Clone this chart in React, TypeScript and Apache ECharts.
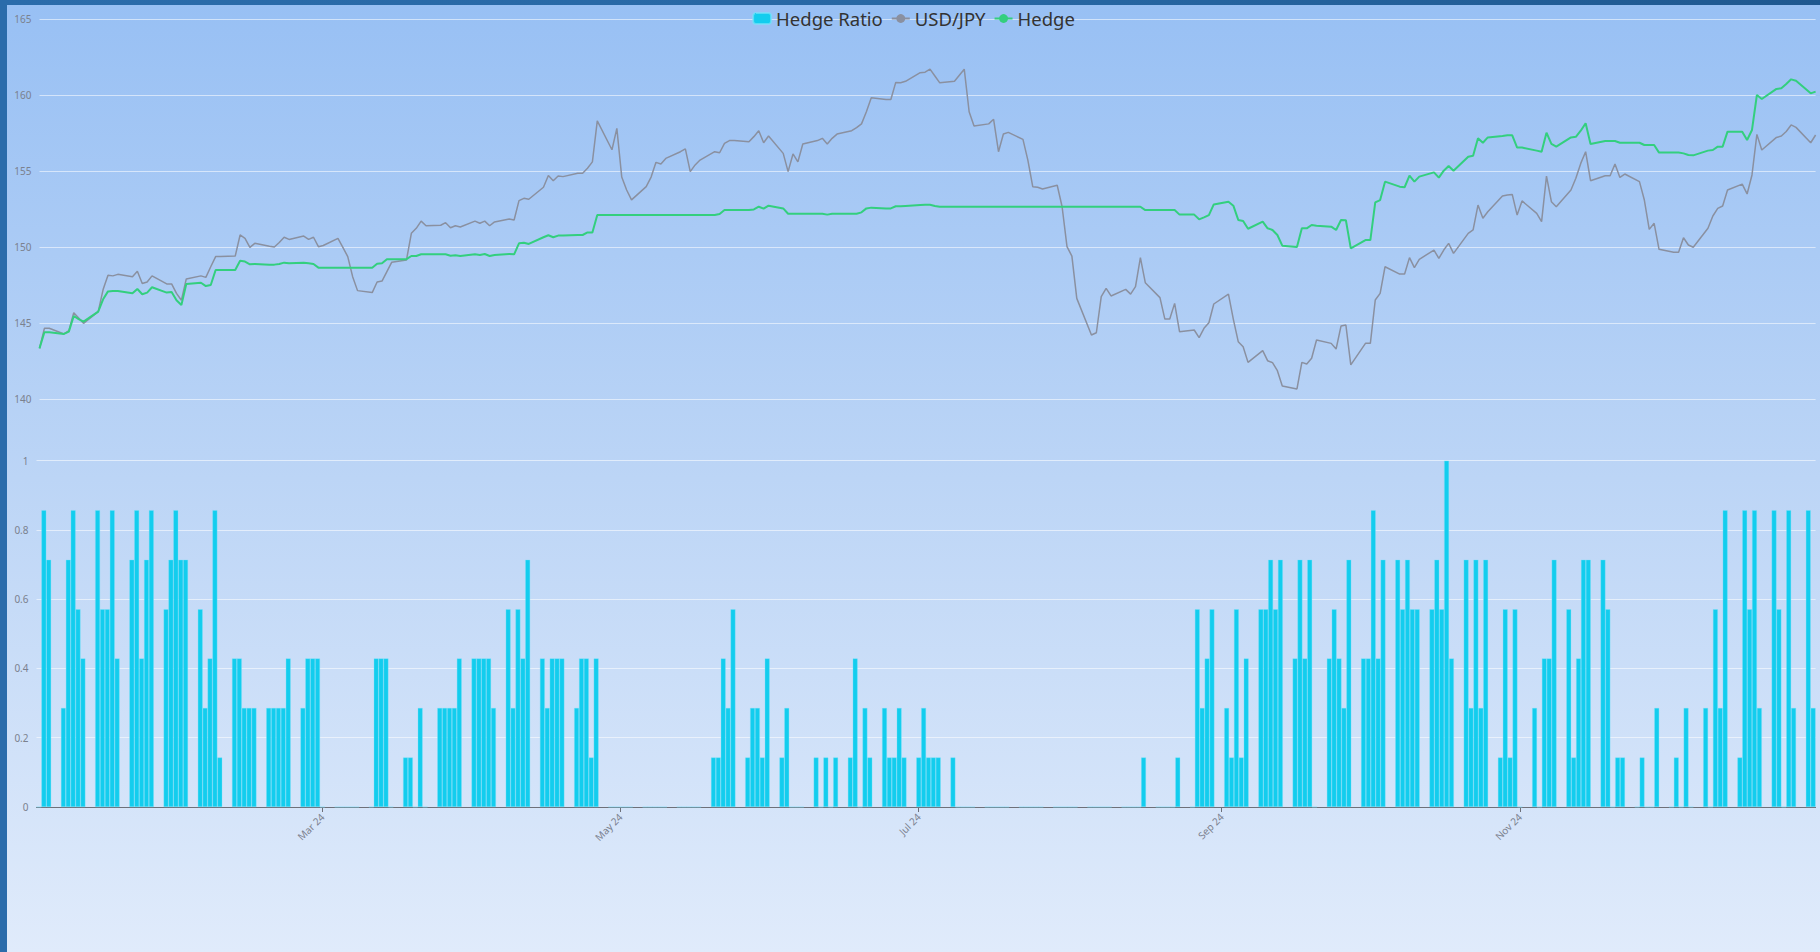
import React, { useEffect, useRef } from "react";
import * as echarts from "echarts";

// ---- categories: trading days of 2024 (day-of-month per month) ----
const YEAR = 2024;
const TRADING_DAYS_BY_MONTH: number[][] = [
  [3, 4, 5, 8, 9, 10, 11, 12, 15, 16, 17, 18, 19, 22, 23, 24, 25, 26, 29, 30, 31],
  [1, 2, 5, 6, 7, 8, 9, 12, 13, 14, 15, 16, 19, 20, 21, 22, 23, 26, 27, 28, 29],
  [1, 4, 5, 6, 7, 8, 11, 12, 13, 14, 15, 18, 19, 20, 21, 22, 25, 26, 27, 28, 29],
  [1, 2, 3, 4, 5, 8, 9, 10, 11, 12, 15, 16, 17, 18, 19, 22, 23, 24, 25, 26, 29, 30],
  [1, 2, 3, 6, 7, 8, 9, 10, 13, 14, 15, 16, 17, 20, 21, 22, 23, 24, 27, 28, 29, 30, 31],
  [3, 4, 5, 6, 7, 10, 11, 12, 13, 14, 17, 18, 19, 20, 21, 24, 25, 26, 27, 28],
  [1, 2, 3, 4, 5, 8, 9, 10, 11, 12, 15, 16, 17, 18, 19, 22, 23, 24, 25, 26, 29, 30, 31],
  [1, 2, 5, 6, 7, 8, 9, 12, 13, 14, 15, 16, 19, 20, 21, 22, 23, 26, 27, 28, 29, 30],
  [2, 3, 4, 5, 6, 9, 10, 11, 12, 13, 16, 17, 18, 19, 20, 23, 24, 25, 26, 27, 30],
  [1, 2, 3, 4, 7, 8, 9, 10, 11, 14, 15, 16, 17, 18, 21, 22, 23, 24, 25, 28, 29, 30, 31],
  [1, 4, 5, 6, 7, 8, 11, 12, 13, 14, 15, 18, 19, 20, 21, 22, 25, 26, 27, 28, 29],
  [2, 3, 4, 5, 6, 9, 10, 11, 12, 13, 16, 17, 18, 19, 20, 23, 24, 25, 26, 27, 30, 31],
];

// ---- series: USD/JPY ----
const usdJpy: number[] = [
  143.33, 144.65, 144.65, 144.28, 144.5, 145.68, 145.33, 144.98, 145.75, 147.2, 148.14, 148.1, 148.2, 148.05, 148.4, 147.6, 147.7, 148.1, 147.57, 147.57, 146.95,
  146.5, 147.9, 148.1, 148.0, 148.7, 149.37, 149.37, 149.4, 150.79, 150.57, 149.98, 150.24, 150.05, 150.0, 150.3, 150.64, 150.5, 150.72, 150.5, 150.64, 150.02,
  150.1, 150.57, 149.98, 149.37, 148.05, 147.13, 147.0, 147.7, 147.76, 148.38, 149.0, 149.14, 150.9, 151.23, 151.7, 151.4, 151.43, 151.6, 151.27, 151.4, 151.32,
  151.7, 151.56, 151.7, 151.4, 151.65, 151.84, 151.78, 153.05, 153.2, 153.14, 153.93, 154.7, 154.36, 154.67, 154.63, 154.85, 154.85, 155.18, 155.6, 158.3, 156.4, 157.8,
  154.6, 153.75, 153.1, 153.97, 154.6, 155.57, 155.46, 155.83, 156.27, 156.45, 154.96, 155.4, 155.72, 156.27, 156.2, 156.82, 157.0, 157.0, 156.93, 157.26, 157.65, 156.86, 157.3,
  156.16, 154.96, 156.12, 155.6, 156.78, 157.0, 157.15, 156.78, 157.15, 157.43, 157.65, 157.85, 158.1, 158.9, 159.82, 159.7, 159.7, 160.83, 160.8, 160.9,
  161.47, 161.5, 161.7, 161.25, 160.8, 160.9, 161.3, 161.7, 158.9, 157.96, 158.1, 158.4, 156.27, 157.43, 157.54, 157.08, 155.72, 153.97, 153.93, 153.82, 154.06, 152.65, 150.02,
  149.4, 146.62, 144.21, 144.36, 146.73, 147.28, 146.78, 147.21, 146.9, 147.39, 149.3, 147.65, 146.67, 145.26, 145.26, 146.29, 144.43, 144.54, 144.04, 144.65, 145.02, 146.25,
  146.9, 145.24, 143.77, 143.44, 142.41, 143.18, 142.52, 142.39, 141.86, 140.86, 140.66, 142.41, 142.3, 142.68, 143.88, 143.66, 143.29, 144.8, 144.87, 142.24, 143.66,
  143.66, 146.51, 146.95, 148.7, 148.22, 148.22, 149.3, 148.64, 149.19, 149.8, 149.25, 149.8, 150.24, 149.58, 150.9, 151.12, 152.76, 151.89, 152.32, 153.36, 153.42, 153.46, 152.1,
  153.03, 152.21, 151.67, 154.67, 152.98, 152.65, 153.75, 154.52, 155.5, 156.27, 154.36, 154.69, 154.69, 155.46, 154.58, 154.8, 154.3, 153.09, 151.16, 151.56, 149.85,
  149.65, 149.65, 150.61, 150.13, 149.98, 151.23, 152.04, 152.54, 152.7, 153.75, 154.14, 153.49, 154.74, 157.41, 156.38, 157.21, 157.3, 157.6, 158.03, 157.87, 156.86, 157.37,
];

// ---- series: Hedge ----
const hedge: number[] = [
  143.33, 144.39, 144.39, 144.28, 144.43, 145.46, 145.26, 145.09, 145.75, 146.56, 147.08, 147.1, 147.1, 146.95, 147.24, 146.89, 147.0, 147.35, 147.0, 147.04, 146.5,
  146.18, 147.57, 147.65, 147.43, 147.5, 148.49, 148.49, 148.49, 149.1, 149.04, 148.86, 148.88, 148.84, 148.84, 148.88, 148.97, 148.93, 148.97, 148.93, 148.88, 148.64,
  148.64, 148.64, 148.64, 148.64, 148.64, 148.64, 148.64, 148.9, 148.93, 149.2, 149.2, 149.2, 149.41, 149.41, 149.52, 149.52, 149.52, 149.52, 149.43, 149.45, 149.41,
  149.52, 149.48, 149.54, 149.41, 149.48, 149.54, 149.52, 150.24, 150.28, 150.2, 150.64, 150.77, 150.64, 150.75, 150.75, 150.79, 150.79, 150.96, 150.96, 152.1, 152.1, 152.1,
  152.1, 152.1, 152.1, 152.1, 152.1, 152.1, 152.1, 152.1, 152.1, 152.1, 152.1, 152.1, 152.1, 152.1, 152.17, 152.43, 152.43, 152.43, 152.43, 152.47, 152.65, 152.52, 152.72,
  152.54, 152.19, 152.19, 152.19, 152.19, 152.19, 152.19, 152.13, 152.19, 152.19, 152.19, 152.19, 152.28, 152.54, 152.59, 152.54, 152.54, 152.68, 152.68, 152.7,
  152.76, 152.78, 152.78, 152.7, 152.65, 152.65, 152.65, 152.65, 152.65, 152.65, 152.65, 152.65, 152.65, 152.65, 152.65, 152.65, 152.65, 152.65, 152.65, 152.65, 152.65, 152.65, 152.65,
  152.65, 152.65, 152.65, 152.65, 152.65, 152.65, 152.65, 152.65, 152.65, 152.65, 152.65, 152.43, 152.43, 152.43, 152.43, 152.43, 152.13, 152.13, 151.82, 151.95, 152.1, 152.8,
  152.98, 152.72, 151.78, 151.71, 151.2, 151.67, 151.23, 151.12, 150.79, 150.09, 150.0, 151.23, 151.23, 151.45, 151.4, 151.34, 151.12, 151.78, 151.76, 149.91, 150.46,
  150.46, 152.94, 153.09, 154.3, 153.97, 153.93, 154.69, 154.3, 154.63, 154.91, 154.56, 155.02, 155.33, 155.02, 155.94, 156.0, 157.15, 156.86, 157.21, 157.3, 157.35, 157.35, 156.54,
  156.54, 156.34, 156.27, 157.52, 156.78, 156.6, 157.21, 157.25, 157.65, 158.14, 156.78, 156.97, 156.97, 156.97, 156.86, 156.86, 156.86, 156.71, 156.71, 156.71, 156.21,
  156.21, 156.21, 156.16, 156.05, 156.03, 156.34, 156.38, 156.6, 156.6, 157.59, 157.59, 157.04, 157.7, 160.0, 159.74, 160.4, 160.44, 160.72, 161.03, 160.94, 160.11, 160.22,
];

// ---- series: Hedge Ratio ----
const hedgeRatio: number[] = [
  0, 0.857, 0.714, 0.286, 0.714, 0.857, 0.571, 0.429, 0.857, 0.571, 0.571, 0.857, 0.429, 0.714, 0.857, 0.429, 0.714, 0.857, 0.571, 0.714, 0.857,
  0.714, 0.714, 0.571, 0.286, 0.429, 0.857, 0.143, 0.429, 0.429, 0.286, 0.286, 0.286, 0.286, 0.286, 0.286, 0.286, 0.429, 0.286, 0.429, 0.429, 0.429,
  0, 0, 0, 0, 0, 0, 0, 0.429, 0.429, 0.429, 0, 0.143, 0.143, 0, 0.286, 0, 0.286, 0.286, 0.286, 0.286, 0.429,
  0.429, 0.429, 0.429, 0.429, 0.286, 0.571, 0.286, 0.571, 0.429, 0.714, 0.429, 0.286, 0.429, 0.429, 0.429, 0.286, 0.429, 0.429, 0.143, 0.429, 0, 0,
  0, 0, 0, 0, 0, 0, 0, 0, 0, 0, 0, 0, 0, 0.143, 0.143, 0.429, 0.286, 0.571, 0.143, 0.286, 0.286, 0.143, 0.429,
  0.143, 0.286, 0, 0, 0, 0.143, 0, 0.143, 0, 0.143, 0.143, 0.429, 0, 0.286, 0.143, 0.286, 0.143, 0.143, 0.286, 0.143,
  0.143, 0.286, 0.143, 0.143, 0.143, 0.143, 0, 0, 0, 0, 0, 0, 0, 0, 0, 0, 0, 0, 0, 0, 0, 0, 0,
  0, 0, 0, 0, 0, 0, 0, 0, 0, 0, 0, 0.143, 0, 0, 0, 0, 0.143, 0, 0.571, 0.286, 0.429, 0.571,
  0.286, 0.143, 0.571, 0.143, 0.429, 0.571, 0.571, 0.714, 0.571, 0.714, 0.429, 0.714, 0.429, 0.714, 0, 0.429, 0.571, 0.429, 0.286, 0.714, 0.429,
  0.429, 0.857, 0.429, 0.714, 0.714, 0.571, 0.714, 0.571, 0.571, 0.571, 0.714, 0.571, 1, 0.429, 0.714, 0.286, 0.714, 0.286, 0.714, 0.143, 0.571, 0.143, 0.571,
  0, 0.286, 0, 0.429, 0.429, 0.714, 0.571, 0.143, 0.429, 0.714, 0.714, 0.714, 0.571, 0, 0.143, 0.143, 0, 0.143, 0, 0, 0.286,
  0, 0.143, 0, 0.286, 0, 0.286, 0, 0.571, 0.286, 0.857, 0.143, 0.857, 0.571, 0.857, 0.286, 0.857, 0.571, 0, 0.857, 0.286, 0.857, 0.286,
];

// ---- tick labels ----
const MONTH_ABBR = ["Jan", "Feb", "Mar", "Apr", "May", "Jun", "Jul", "Aug", "Sep", "Oct", "Nov", "Dec"];
const LABEL_MONTH_STEP = 2; // a label every other month: Mar, May, Jul, Sep, Nov

const pad = (n: number) => (n < 10 ? "0" + n : "" + n);
const tradingDates: string[] = TRADING_DAYS_BY_MONTH.flatMap((days, m) =>
  days.map((d) => `${YEAR}-${pad(m + 1)}-${pad(d)}`)
);

const FONT = "'Noto Sans', 'DejaVu Sans', sans-serif";
const LABEL_COLOR = "#7b818e";
const SPLIT = "rgba(255,255,255,0.55)";
const ONE_DAY = 24 * 3600 * 1000;

export default function App() {
  const ref = useRef<HTMLDivElement>(null);

  useEffect(() => {
    document.body.style.margin = "0";
    if (!ref.current) return;
    const chart = echarts.init(ref.current, undefined, { renderer: "svg" });
    const first = new Date(YEAR, 0, TRADING_DAYS_BY_MONTH[0][0]).getTime();
    const lastDays = TRADING_DAYS_BY_MONTH[11];
    const last = new Date(YEAR, 11, lastDays[lastDays.length - 1]).getTime();

    const option: any = {
      animation: false,
      textStyle: { fontFamily: FONT },
      legend: {
        top: 0,
        left: "center",
        padding: [4, 5, 5, 5],
        data: ["Hedge Ratio", "USD/JPY", "Hedge"],
        itemWidth: 18,
        itemHeight: 11,
        itemGap: 8,
        textStyle: { fontSize: 18.5, color: "#333", fontFamily: FONT },
      },
      grid: [
        { left: 32.5, right: 4.4, top: 14, height: 380 },
        { left: 29.5, right: 4.4, top: 455.7, height: 346.3 },
      ],
      xAxis: [
        {
          type: "time",
          gridIndex: 0,
          min: first,
          max: last,
          show: false,
        },
        {
          type: "time",
          gridIndex: 1,
          min: first,
          max: last,
          minInterval: LABEL_MONTH_STEP * 28 * ONE_DAY,
          maxInterval: LABEL_MONTH_STEP * 31 * ONE_DAY,
          splitLine: { show: false },
          axisLine: { lineStyle: { color: "#6e7079" } },
          axisTick: { show: true, length: 5 },
          axisLabel: {
            rotate: 45,
            fontSize: 10,
            color: LABEL_COLOR,
            fontFamily: FONT,
            showMinLabel: false,
            showMaxLabel: false,
            hideOverlap: false,
            formatter: (v: number) => {
              const d = new Date(v);
              return MONTH_ABBR[d.getMonth()] + " " + String(d.getFullYear()).slice(2);
            },
          },
        },
      ],
      yAxis: [
        {
          type: "value",
          gridIndex: 0,
          min: 140,
          max: 165,
          interval: 5,
          axisLine: { show: false },
          axisTick: { show: false },
          axisLabel: { fontSize: 10, color: LABEL_COLOR, fontFamily: FONT },
          splitLine: { lineStyle: { color: SPLIT, width: 1 } },
        },
        {
          type: "value",
          gridIndex: 1,
          min: 0,
          max: 1,
          interval: 0.2,
          axisLine: { show: false },
          axisTick: { show: false },
          axisLabel: { fontSize: 10, color: LABEL_COLOR, fontFamily: FONT },
          splitLine: { lineStyle: { color: SPLIT, width: 1 } },
        },
      ],
      series: [
        {
          name: "Hedge Ratio",
          type: "bar",
          xAxisIndex: 1,
          yAxisIndex: 1,
          barCategoryGap: "0%",
          barGap: "0%",
          itemStyle: { color: "#13cdee", borderColor: "rgba(120,225,250,0.7)", borderWidth: 0.5 },
          data: tradingDates.map((d, i) => [d, hedgeRatio[i]]),
        },
        {
          name: "USD/JPY",
          type: "line",
          xAxisIndex: 0,
          yAxisIndex: 0,
          symbol: "circle",
          showSymbol: false,
          lineStyle: { color: "#8a90a0", width: 1.5 },
          itemStyle: { color: "#8a90a0" },
          data: tradingDates.map((d, i) => [d, usdJpy[i]]),
        },
        {
          name: "Hedge",
          type: "line",
          xAxisIndex: 0,
          yAxisIndex: 0,
          symbol: "circle",
          showSymbol: false,
          lineStyle: { color: "#33cf7e", width: 2 },
          itemStyle: { color: "#33cf7e" },
          data: tradingDates.map((d, i) => [d, hedge[i]]),
        },
      ],
    };
    chart.setOption(option);
    return () => chart.dispose();
  }, []);

  return (
    <div
      style={{
        position: "fixed",
        inset: 0,
        background: "linear-gradient(90deg, #2b6cab 0%, #2767a4 55%, #1f5890 100%)",
      }}
    >
      <div
        style={{
          position: "absolute",
          left: 7,
          top: 5,
          right: 0,
          bottom: 0,
          background: "linear-gradient(180deg, #98c0f4 0%, #bcd5f6 50%, #e0ebfb 100%)",
        }}
      >
        <div ref={ref} style={{ width: "100%", height: "100%" }} />
      </div>
    </div>
  );
}
